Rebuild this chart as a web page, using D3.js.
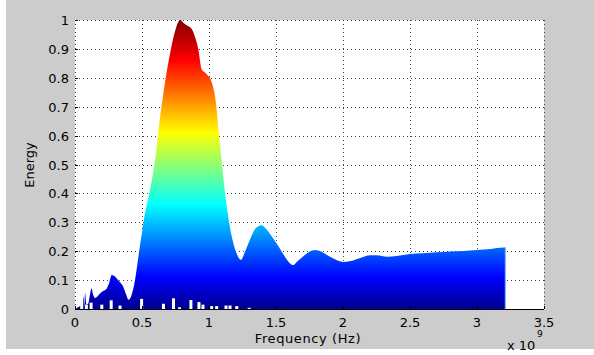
<!DOCTYPE html>
<html>
<head>
<meta charset="utf-8">
<script src="https://cdn.jsdelivr.net/npm/d3@7"></script>
<style>
  html, body { margin: 0; padding: 0; background: #ffffff; }
  svg { display: block; }
  text { font-family: "DejaVu Sans", sans-serif; fill: #000; }
</style>
</head>
<body>
<svg id="chart" width="594" height="355"></svg>
<script>
// Spectrum envelope: frequency in units of 1e9 Hz, normalised energy
const frequency = [0, 0.02, 0.04, 0.05, 0.056, 0.062, 0.07, 0.075, 0.085, 0.1, 0.11, 0.124, 0.135, 0.15,
  0.17, 0.19, 0.21, 0.235, 0.255, 0.274, 0.3, 0.33, 0.36, 0.38, 0.4, 0.42, 0.448, 0.47, 0.485, 0.5,
  0.52, 0.547, 0.575, 0.605, 0.634, 0.672, 0.716, 0.746, 0.784, 0.81, 0.83, 0.87, 0.9, 0.92, 0.945,
  0.965, 0.983, 1.02, 1.05, 1.075, 1.097, 1.12, 1.15, 1.2, 1.239, 1.27, 1.306, 1.35, 1.393, 1.43,
  1.47, 1.505, 1.567, 1.6, 1.63, 1.66, 1.7, 1.75, 1.79, 1.84, 1.88, 1.94, 2.0, 2.05, 2.1, 2.15, 2.2,
  2.25, 2.33, 2.4, 2.5, 2.6, 2.7, 2.8, 2.9, 3.0, 3.1, 3.2, 3.21, 3.2105];
const energy = [0, 0.005, 0.012, 0.025, 0.005, 0.043, 0.01, 0.055, 0.015, 0.02, 0.045, 0.072, 0.05, 0.038,
  0.045, 0.055, 0.062, 0.07, 0.09, 0.118, 0.112, 0.095, 0.077, 0.052, 0.032, 0.045, 0.1, 0.17, 0.22, 0.265,
  0.325, 0.385, 0.45, 0.54, 0.66, 0.785, 0.9, 0.96, 1.0, 0.99, 0.983, 0.97, 0.935, 0.9, 0.83,
  0.82, 0.812, 0.785, 0.72, 0.6, 0.5, 0.4, 0.3, 0.2, 0.17, 0.2, 0.24, 0.28, 0.29, 0.275,
  0.25, 0.227, 0.181, 0.16, 0.152, 0.165, 0.181, 0.198, 0.204, 0.198, 0.187, 0.172, 0.163, 0.165, 0.172, 0.18, 0.186,
  0.186, 0.181, 0.183, 0.19, 0.193, 0.196, 0.199, 0.201, 0.204, 0.208, 0.213, 0.213, 0];

// Gaps near the baseline where no trace reaches
const gapFrequency = [0.05, 0.085, 0.12, 0.2, 0.27, 0.336, 0.497, 0.66, 0.735, 0.78, 0.865, 0.925, 0.955,
  1.02, 1.057, 1.127, 1.157, 1.207, 1.3];
const gapHeight = [0.03, 0.015, 0.022, 0.015, 0.03, 0.012, 0.035, 0.018, 0.037, 0.006, 0.031, 0.024, 0.015,
  0.01, 0.01, 0.012, 0.012, 0.01, 0.004];

const xTicks = [0, 0.5, 1, 1.5, 2, 2.5, 3, 3.5];
const xTickLabels = ["0", "0.5", "1", "1.5", "2", "2.5", "3", "3.5"];
const yTicks = [0, 0.1, 0.2, 0.3, 0.4, 0.5, 0.6, 0.7, 0.8, 0.9, 1];
const yTickLabels = ["0", "0.1", "0.2", "0.3", "0.4", "0.5", "0.6", "0.7", "0.8", "0.9", "1"];

// jet colormap stops
const jetStops = [
  [0, "#00008f"], [0.11, "#0000ff"], [0.36, "#00ffff"], [0.61, "#ffff00"], [0.86, "#ff0000"], [1, "#800000"]
];

const svg = d3.select("#chart");
const W = 594, H = 355;
const margin = { left: 75, top: 20, right: 50, bottom: 46 };

// figure background
svg.append("rect").attr("x", 6).attr("y", 0).attr("width", W - 6).attr("height", 349).attr("fill", "#cccccc");

const x = d3.scaleLinear().domain([0, 3.5]).range([margin.left, 544]);
const y = d3.scaleLinear().domain([0, 1]).range([309, margin.top]);

// axes background
svg.append("rect").attr("x", x(0)).attr("y", y(1))
  .attr("width", x(3.5) - x(0)).attr("height", y(0) - y(1)).attr("fill", "#ffffff");

// dotted grid
const grid = svg.append("g").attr("stroke", "#444").attr("stroke-width", 1).attr("stroke-dasharray", "1,3");
grid.selectAll("line.v").data(xTicks).join("line")
  .attr("x1", d => Math.round(x(d)) + 0.5).attr("x2", d => Math.round(x(d)) + 0.5)
  .attr("y1", y(1)).attr("y2", y(0));
grid.selectAll("line.h").data(yTicks.slice(1)).join("line")
  .attr("y1", d => Math.round(y(d)) + 0.5).attr("y2", d => Math.round(y(d)) + 0.5)
  .attr("x1", x(0)).attr("x2", x(3.5));

// vertical colour gradient by energy
const defs = svg.append("defs");
const grad = defs.append("linearGradient").attr("id", "jet")
  .attr("gradientUnits", "userSpaceOnUse")
  .attr("x1", 0).attr("x2", 0).attr("y1", y(0)).attr("y2", y(1));
grad.selectAll("stop").data(jetStops).join("stop")
  .attr("offset", d => d[0]).attr("stop-color", d => d[1]);

const points = frequency.map((f, i) => [f, energy[i]]);
const area = d3.area()
  .x(d => x(d[0])).y0(y(0)).y1(d => y(d[1]))
  .curve(d3.curveMonotoneX);
svg.append("path").datum(points).attr("d", area).attr("fill", "url(#jet)");

// light edge at the end of the sweep
svg.append("line")
  .attr("x1", x(3.2105)).attr("x2", x(3.2105))
  .attr("y1", y(0)).attr("y2", y(0.213))
  .attr("stroke", "#5aa0ff").attr("stroke-width", 1);

// gaps near the floor
svg.append("g").selectAll("rect").data(gapFrequency.map((f, i) => [f, gapHeight[i]])).join("rect")
  .attr("x", d => x(d[0]) - 1.5).attr("width", 3)
  .attr("y", d => y(d[1])).attr("height", d => y(0) - y(d[1]))
  .attr("fill", "#ffffff");

// bottom axis line and tick marks
svg.append("line").attr("x1", x(0)).attr("x2", x(3.5)).attr("y1", y(0) + 0.5).attr("y2", y(0) + 0.5)
  .attr("stroke", "#000").attr("stroke-width", 1);
svg.append("g").selectAll("line").data(xTicks).join("line")
  .attr("x1", d => Math.round(x(d)) + 0.5).attr("x2", d => Math.round(x(d)) + 0.5)
  .attr("y1", y(0)).attr("y2", y(0) - 3).attr("stroke", "#000");
svg.append("g").selectAll("line").data(yTicks).join("line")
  .attr("y1", d => Math.round(y(d)) + 0.5).attr("y2", d => Math.round(y(d)) + 0.5)
  .attr("x1", x(0)).attr("x2", x(0) + 3).attr("stroke", "#000");

// tick labels
svg.append("g").selectAll("text").data(xTicks).join("text")
  .attr("x", d => x(d)).attr("y", y(0) + 18)
  .attr("text-anchor", "middle").attr("font-size", 13)
  .text((d, i) => xTickLabels[i]);
svg.append("g").selectAll("text").data(yTicks).join("text")
  .attr("x", x(0) - 6).attr("y", d => y(d) + 5)
  .attr("text-anchor", "end").attr("font-size", 13)
  .text((d, i) => yTickLabels[i]);

// axis titles
svg.append("text").attr("x", 308).attr("y", 343).attr("text-anchor", "middle")
  .attr("font-size", 13).attr("letter-spacing", 0.6).text("Frequency (Hz)");
svg.append("text").attr("transform", "translate(34,165) rotate(-90)")
  .attr("text-anchor", "middle").attr("font-size", 13).text("Energy");

// exponent
svg.append("text").attr("x", 507).attr("y", 350).attr("font-size", 13).text("x 10");
svg.append("text").attr("x", 537).attr("y", 337).attr("font-size", 9).text("9");
</script>
</body>
</html>
